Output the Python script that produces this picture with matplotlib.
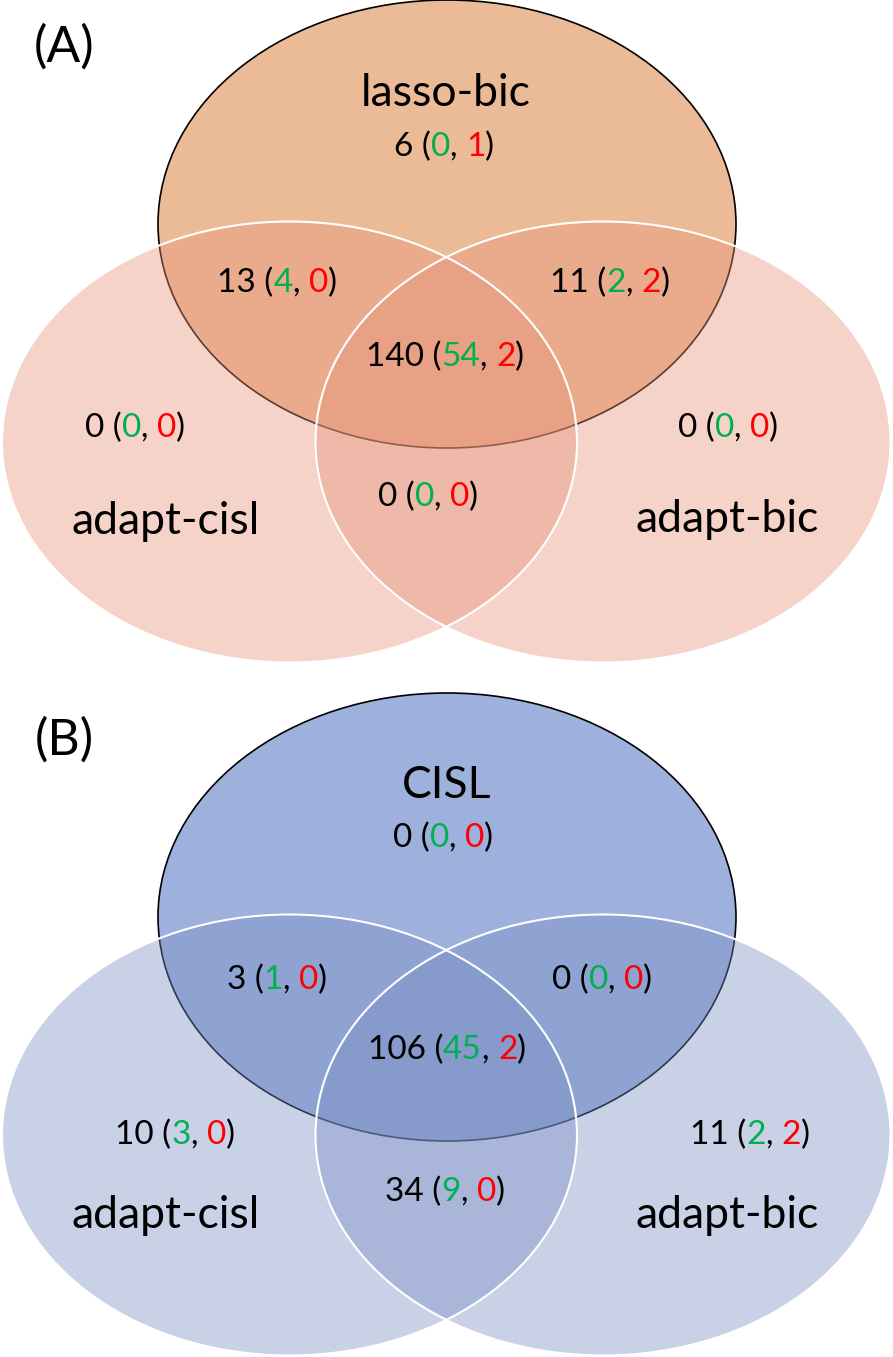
import matplotlib
matplotlib.use("Agg")
import matplotlib.pyplot as plt
from matplotlib.patches import Ellipse

plt.rcParams['font.family'] = ['Lato', 'DejaVu Sans']

# region order: top only, top+left, top+right, all three, left only, right only, left+right
regions = ["top", "top_left", "top_right", "center", "left", "right", "bottom"]

names_A = ["lasso-bic", "adapt-cisl", "adapt-bic"]
counts_A = [6, 13, 11, 140, 0, 0, 0]
green_A = [0, 4, 2, 54, 0, 0, 0]
red_A = [1, 0, 2, 2, 0, 0, 0]

names_B = ["CISL", "adapt-cisl", "adapt-bic"]
counts_B = [0, 3, 0, 106, 10, 11, 34]
green_B = [0, 1, 0, 45, 3, 2, 9]
red_B = [0, 0, 0, 2, 0, 2, 0]

GREEN = '#00b050'
RED = '#ff0000'

W, H = 893, 1357
fig = plt.figure(figsize=(W / 100, H / 100), dpi=100)
ax = fig.add_axes([0, 0, 1, 1])
ax.set_xlim(0, W)
ax.set_ylim(H, 0)
ax.axis('off')

renderer = fig.canvas.get_renderer()


def text_width(s, size):
    w, h, d = renderer.get_text_width_height_descent(
        s, matplotlib.font_manager.FontProperties(family='Lato', size=size), ismath=False)
    return w


def colored_label(x, y, parts, size=24):
    full = "".join(p[0] for p in parts)
    total = text_width(full, size)
    x0 = x - total / 2
    ref = text_width("x", size)
    prefix = ""
    for s, c in parts:
        off = text_width(prefix + "x", size) - ref if prefix else 0
        ax.text(x0 + off, y, s, color=c, fontsize=size, ha='left', va='center', zorder=5)
        prefix += s


def venn(dy, top_color, side_color, names, counts, green, red, letter, label_pos, name_pos):
    # top set drawn first, the two lower sets are translucent over it
    ax.add_patch(Ellipse((447, 224 + dy), 578, 448, facecolor=top_color,
                         edgecolor='black', lw=1.2, zorder=1))
    for cx in (289.5, 603):
        ax.add_patch(Ellipse((cx, 442 + dy), 575, 441, facecolor=side_color,
                             alpha=0.4, edgecolor='none', zorder=2))
    for cx in (289.5, 603):
        ax.add_patch(Ellipse((cx, 442 + dy), 575, 441, facecolor='none',
                             edgecolor='white', lw=1.5, zorder=3))

    ax.text(64, 47 + dy, letter, fontsize=36, ha='center', va='center', zorder=5)
    for nm, (px, py) in zip(names, name_pos):
        ax.text(px, py + dy, nm, fontsize=32, ha='center', va='center', zorder=5)
    for i, r in enumerate(regions):
        px, py = label_pos[r]
        colored_label(px, py + dy, [(f"{counts[i]} (", 'black'), (str(green[i]), GREEN),
                                    (", ", 'black'), (str(red[i]), RED), (")", 'black')])


pos_A = {"top": (444, 147), "top_left": (277, 283), "top_right": (610, 283),
         "center": (445, 357), "left": (135, 428), "right": (728, 428),
         "bottom": (428, 497)}
pos_B = {"top": (443, 145), "top_left": (277, 287), "top_right": (602, 287),
         "center": (447, 357), "left": (175, 442), "right": (750, 442),
         "bottom": (445, 499)}

venn(0, '#ebbb98', '#e8937a', names_A, counts_A, green_A, red_A, "(A)", pos_A,
     [(446, 93), (166, 521), (727, 519)])
venn(693, '#9eb1dc', '#7a8ec5', names_B, counts_B, green_B, red_B, "(B)", pos_B,
     [(447, 93), (166, 523), (727, 523)])

fig.savefig("out.png", dpi=100)
